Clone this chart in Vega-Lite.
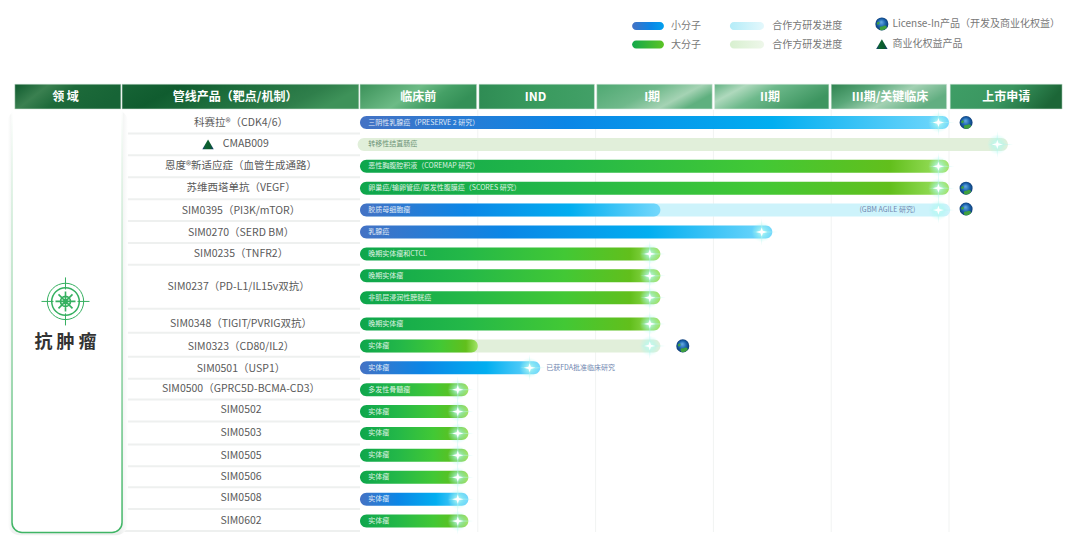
{"$schema":"https://vega.github.io/schema/vega-lite/v6.json","width":1080,"height":538,"autosize":{"type":"fit","contains":"padding"},"padding":0,"background":"white","config":{"view":{"stroke":null},"text":{"font":"Noto Sans CJK SC"}},
"datasets":{
"bars":[
{"row":0,"start":0,"end":5,"kind":"small"},
{"row":1,"start":-0.02,"end":5.5,"kind":"partnerGreen"},
{"row":2,"start":0,"end":5,"kind":"large"},
{"row":3,"start":0,"end":5,"kind":"large"},
{"row":4,"start":0,"end":5.01,"kind":"partnerBlue"},
{"row":4,"start":0,"end":2.55,"kind":"small"},
{"row":5,"start":0,"end":3.5,"kind":"small"},
{"row":6,"start":0,"end":2.55,"kind":"large"},
{"row":7,"start":0,"end":2.55,"kind":"large"},
{"row":8,"start":0,"end":2.55,"kind":"large"},
{"row":9.2,"start":0,"end":2.55,"kind":"large"},
{"row":10.2,"start":0,"end":2.55,"kind":"partnerGreen"},
{"row":10.2,"start":0,"end":1,"kind":"large"},
{"row":11.2,"start":0,"end":1.53,"kind":"small"},
{"row":12.2,"start":0,"end":0.92,"kind":"large"},
{"row":13.2,"start":0,"end":0.92,"kind":"large"},
{"row":14.2,"start":0,"end":0.92,"kind":"large"},
{"row":15.2,"start":0,"end":0.92,"kind":"large"},
{"row":16.2,"start":0,"end":0.92,"kind":"large"},
{"row":17.2,"start":0,"end":0.92,"kind":"small"},
{"row":18.2,"start":0,"end":0.92,"kind":"large"}],
"stars":[
{"row":0,"start":4.91},{"row":1,"start":5.41},{"row":2,"start":4.91},{"row":3,"start":4.91},{"row":4,"start":4.91},{"row":5,"start":3.41},{"row":6,"start":2.46},{"row":7,"start":2.46},{"row":8,"start":2.46},{"row":9.2,"start":2.46},{"row":10.2,"start":2.46},{"row":11.2,"start":1.44},{"row":12.2,"start":0.83},{"row":13.2,"start":0.83},{"row":14.2,"start":0.83},{"row":15.2,"start":0.83},{"row":16.2,"start":0.83},{"row":17.2,"start":0.83},{"row":18.2,"start":0.83}],
"barLabels":[
{"row":0,"start":0.07,"label":"三阴性乳腺癌（PRESERVE 2 研究）"},
{"row":2,"start":0.07,"label":"恶性胸腹腔积液（COREMAP 研究）"},
{"row":3,"start":0.07,"label":"卵巢癌/输卵管癌/原发性腹膜癌（SCORES 研究）"},
{"row":4,"start":0.07,"label":"胶质母细胞瘤"},
{"row":5,"start":0.07,"label":"乳腺癌"},
{"row":6,"start":0.07,"label":"晚期实体瘤和CTCL"},
{"row":7,"start":0.07,"label":"晚期实体瘤"},
{"row":8,"start":0.07,"label":"非肌层浸润性膀胱癌"},
{"row":9.2,"start":0.07,"label":"晚期实体瘤"},
{"row":10.2,"start":0.07,"label":"实体瘤"},
{"row":11.2,"start":0.07,"label":"实体瘤"},
{"row":12.2,"start":0.07,"label":"多发性骨髓瘤"},
{"row":13.2,"start":0.07,"label":"实体瘤"},
{"row":14.2,"start":0.07,"label":"实体瘤"},
{"row":15.2,"start":0.07,"label":"实体瘤"},
{"row":16.2,"start":0.07,"label":"实体瘤"},
{"row":17.2,"start":0.07,"label":"实体瘤"},
{"row":18.2,"start":0.07,"label":"实体瘤"}],
"notes":[
{"row":1,"start":0.07,"label":"转移性结直肠癌","tone":"green"},
{"row":4,"start":4.24,"label":"(GBM AGILE 研究)","tone":"blue"},
{"row":11.2,"start":1.58,"label":"已获FDA批准临床研究","tone":"blue"}],
"products":[
{"row":0,"start":-1.01,"label":"科赛拉®（CDK4/6）"},
{"row":1,"start":-0.97,"label":"CMAB009"},
{"row":2,"start":-1.01,"label":"恩度®新适应症（血管生成通路）"},
{"row":3,"start":-1.01,"label":"苏维西塔单抗（VEGF）"},
{"row":4.03,"start":-1.01,"label":"SIM0395（PI3K/mTOR）"},
{"row":5.03,"start":-1.01,"label":"SIM0270（SERD BM）"},
{"row":6.02,"start":-1.01,"label":"SIM0235（TNFR2）"},
{"row":7.5,"start":-1.03,"label":"SIM0237（PD-L1/IL15v双抗）"},
{"row":9.2,"start":-1.01,"label":"SIM0348（TIGIT/PVRIG双抗）"},
{"row":10.25,"start":-1.01,"label":"SIM0323（CD80/IL2）"},
{"row":11.25,"start":-1.01,"label":"SIM0501（USP1）"},
{"row":12.18,"start":-1.01,"label":"SIM0500（GPRC5D-BCMA-CD3）"},
{"row":13.15,"start":-1.01,"label":"SIM0502"},
{"row":14.2,"start":-1.01,"label":"SIM0503"},
{"row":15.25,"start":-1.01,"label":"SIM0505"},
{"row":16.2,"start":-1.01,"label":"SIM0506"},
{"row":17.15,"start":-1.01,"label":"SIM0508"},
{"row":18.2,"start":-1.01,"label":"SIM0602"}],
"separators":[
{"row":0.5,"start":-2.02,"end":0},{"row":1.5,"start":-2.02,"end":0},{"row":2.5,"start":-2.02,"end":0},{"row":3.5,"start":-2.02,"end":0},{"row":4.5,"start":-2.02,"end":0},{"row":5.5,"start":-2.02,"end":0},{"row":6.5,"start":-2.02,"end":0},{"row":8.5,"start":-2.02,"end":0},{"row":9.6,"start":-2.02,"end":0},{"row":10.7,"start":-2.02,"end":0},{"row":11.7,"start":-2.02,"end":0},{"row":12.65,"start":-2.02,"end":0},{"row":13.65,"start":-2.02,"end":0},{"row":14.7,"start":-2.02,"end":0},{"row":15.7,"start":-2.02,"end":0},{"row":16.65,"start":-2.02,"end":0},{"row":17.65,"start":-2.02,"end":0},{"row":18.65,"start":-2.02,"end":0}],
"grid":[{"start":1,"row":-0.57,"rowEnd":18.7},{"start":2,"row":-0.57,"rowEnd":18.7},{"start":3,"row":-0.57,"rowEnd":18.7},{"start":4,"row":-0.57,"rowEnd":18.7},{"start":5,"row":-0.57,"rowEnd":18.7}],
"headers":[
{"cell":"a","start":-2.93,"end":-2.03,"row":-1.75,"rowEnd":-0.62},
{"cell":"b","start":-2.02,"end":-0.01,"row":-1.75,"rowEnd":-0.62},
{"cell":"c","start":0,"end":0.99,"row":-1.75,"rowEnd":-0.62},
{"cell":"d","start":1.01,"end":1.99,"row":-1.75,"rowEnd":-0.62},
{"cell":"e","start":2.01,"end":2.99,"row":-1.75,"rowEnd":-0.62},
{"cell":"f","start":3.01,"end":3.98,"row":-1.75,"rowEnd":-0.62},
{"cell":"g","start":4,"end":4.98,"row":-1.75,"rowEnd":-0.62},
{"cell":"h","start":5.01,"end":5.96,"row":-1.75,"rowEnd":-0.62}],
"headerLabels":[
{"start":-2.5,"row":-1.17,"label":"领 域"},
{"start":-1.06,"row":-1.17,"label":"管线产品（靶点/机制）"},
{"start":0.495,"row":-1.17,"label":"临床前"},
{"start":1.49,"row":-1.17,"label":"IND"},
{"start":2.48,"row":-1.17,"label":"I期"},
{"start":3.48,"row":-1.17,"label":"II期"},
{"start":4.5,"row":-1.17,"label":"III期/关键临床"},
{"start":5.485,"row":-1.17,"label":"上市申请"}],
"panel":[{"start":-2.954,"end":-2.02,"row":-0.57,"rowEnd":18.72}],
"shadow":[{"start":-2.99,"end":-1.97,"row":-0.57,"rowEnd":18.85}],
"domainIcon":[{"start":-2.5,"row":8.17}],
"domainLabel":[{"start":-2.5,"row":10.07,"label":"抗 肿 瘤"}],
"globes":[{"start":5.145,"row":0},{"start":5.145,"row":3},{"start":5.145,"row":3.95},{"start":2.74,"row":10.2},{"start":4.43,"row":-4.5}],
"triangles":[{"start":-1.29,"row":1},{"start":4.43,"row":-3.58}],
"legendSmall":[{"start":2.31,"end":2.58,"row":-4.41}],
"legendLarge":[{"start":2.31,"end":2.58,"row":-3.56}],
"legendPartnerBlue":[{"start":3.14,"end":3.43,"row":-4.41}],
"legendPartnerGreen":[{"start":3.14,"end":3.43,"row":-3.56}],
"legendText":[
{"start":2.64,"row":-4.41,"label":"小分子"},
{"start":2.64,"row":-3.56,"label":"大分子"},
{"start":3.5,"row":-4.41,"label":"合作方研发进度"},
{"start":3.5,"row":-3.56,"label":"合作方研发进度"},
{"start":4.52,"row":-4.5,"label":"License-In产品（开发及商业化权益）"},
{"start":4.52,"row":-3.58,"label":"商业化权益产品"}]
},
"encoding":{
"x":{"field":"start","type":"quantitative","axis":null,"scale":{"domain":[-3.056,6.112],"nice":false,"zero":false,"padding":0}},
"y":{"field":"row","type":"quantitative","axis":null,"scale":{"domain":[-5.594,18.973],"nice":false,"zero":false,"reverse":true,"padding":0}}},
"layer":[
{"data":{"name":"grid"},"mark":{"type":"rule","color":"#f1f3f2","strokeWidth":1},"encoding":{"y2":{"field":"rowEnd"}}},
{"data":{"name":"separators"},"mark":{"type":"rule","color":"#eef0ef","strokeWidth":2},"encoding":{"x2":{"field":"end"}}},
{"data":{"name":"shadow"},"mark":{"type":"bar","orient":"horizontal","cornerRadius":12,"fill":{"gradient":"linear","x1":0,"y1":0,"x2":1,"y2":0,"stops":[{"offset":0,"color":"#ffffff"},{"offset":0.04,"color":"#f0f2f1"},{"offset":0.93,"color":"#eceeed"},{"offset":1,"color":"#ffffff"}]}},"encoding":{"x2":{"field":"end"},"y2":{"field":"rowEnd"}}},
{"data":{"name":"panel"},"mark":{"type":"bar","orient":"horizontal","cornerRadiusBottomLeft":10,"cornerRadiusBottomRight":10,"fill":"#ffffff","strokeWidth":1.5,"stroke":{"gradient":"linear","x1":0,"y1":0,"x2":0,"y2":1,"stops":[{"offset":0,"color":"#ffffff"},{"offset":0.12,"color":"#e6f5ea"},{"offset":0.45,"color":"#a8dcb8"},{"offset":1,"color":"#3fb565"}]}},"encoding":{"x2":{"field":"end"},"y2":{"field":"rowEnd"}}},
{"data":{"name":"headers"},"transform":[{"filter":"datum.cell==='a'"}],"mark":{"type":"bar","orient":"horizontal","stroke":"#cfe3d6","strokeWidth":0.5,"fill":{"gradient":"linear","x1":0,"y1":0,"x2":1,"y2":0.3,"stops":[{"offset":0,"color":"#0f5a2e"},{"offset":0.3,"color":"#3a8050"},{"offset":0.55,"color":"#1d6a3a"},{"offset":1,"color":"#176436"}]}},"encoding":{"x2":{"field":"end"},"y2":{"field":"rowEnd"}}},
{"data":{"name":"headers"},"transform":[{"filter":"datum.cell==='b'"}],"mark":{"type":"bar","orient":"horizontal","stroke":"#cfe3d6","strokeWidth":0.5,"fill":{"gradient":"linear","x1":0,"y1":0,"x2":1,"y2":0.2,"stops":[{"offset":0,"color":"#176436"},{"offset":0.25,"color":"#105c2f"},{"offset":0.5,"color":"#1d6d3c"},{"offset":0.85,"color":"#2f7f4b"},{"offset":1,"color":"#3e9259"}]}},"encoding":{"x2":{"field":"end"},"y2":{"field":"rowEnd"}}},
{"data":{"name":"headers"},"transform":[{"filter":"datum.cell==='c'"}],"mark":{"type":"bar","orient":"horizontal","stroke":"#cfe3d6","strokeWidth":0.5,"fill":{"gradient":"linear","x1":0,"y1":0,"x2":1,"y2":0.3,"stops":[{"offset":0,"color":"#3b9159"},{"offset":0.5,"color":"#6dbb86"},{"offset":0.75,"color":"#45a066"},{"offset":1,"color":"#349057"}]}},"encoding":{"x2":{"field":"end"},"y2":{"field":"rowEnd"}}},
{"data":{"name":"headers"},"transform":[{"filter":"datum.cell==='d'"}],"mark":{"type":"bar","orient":"horizontal","stroke":"#cfe3d6","strokeWidth":0.5,"fill":{"gradient":"linear","x1":0,"y1":0,"x2":1,"y2":0,"stops":[{"offset":0,"color":"#2f8c54"},{"offset":0.5,"color":"#399a5e"},{"offset":1,"color":"#42a067"}]}},"encoding":{"x2":{"field":"end"},"y2":{"field":"rowEnd"}}},
{"data":{"name":"headers"},"transform":[{"filter":"datum.cell==='e'"}],"mark":{"type":"bar","orient":"horizontal","stroke":"#d8e9de","strokeWidth":0.5,"fill":{"gradient":"linear","x1":0,"y1":0,"x2":1,"y2":0.4,"stops":[{"offset":0,"color":"#4fa872"},{"offset":0.5,"color":"#6fb98b"},{"offset":0.8,"color":"#a5d3b4"},{"offset":1,"color":"#5fb07f"}]}},"encoding":{"x2":{"field":"end"},"y2":{"field":"rowEnd"}}},
{"data":{"name":"headers"},"transform":[{"filter":"datum.cell==='f'"}],"mark":{"type":"bar","orient":"horizontal","stroke":"#d8e9de","strokeWidth":0.5,"fill":{"gradient":"linear","x1":0,"y1":0,"x2":1,"y2":0.4,"stops":[{"offset":0,"color":"#63b283"},{"offset":0.25,"color":"#afd9bd"},{"offset":0.5,"color":"#6db98b"},{"offset":1,"color":"#3d9560"}]}},"encoding":{"x2":{"field":"end"},"y2":{"field":"rowEnd"}}},
{"data":{"name":"headers"},"transform":[{"filter":"datum.cell==='g'"}],"mark":{"type":"bar","orient":"horizontal","stroke":"#d8e9de","strokeWidth":0.5,"fill":{"gradient":"linear","x1":0,"y1":0,"x2":1,"y2":0.4,"stops":[{"offset":0,"color":"#2f8350"},{"offset":0.35,"color":"#5aa87a"},{"offset":0.65,"color":"#a3d1b3"},{"offset":1,"color":"#62ae81"}]}},"encoding":{"x2":{"field":"end"},"y2":{"field":"rowEnd"}}},
{"data":{"name":"headers"},"transform":[{"filter":"datum.cell==='h'"}],"mark":{"type":"bar","orient":"horizontal","stroke":"#cfe3d6","strokeWidth":0.5,"fill":{"gradient":"linear","x1":0,"y1":0,"x2":1,"y2":0.2,"stops":[{"offset":0,"color":"#3f9e66"},{"offset":0.55,"color":"#3a9660"},{"offset":1,"color":"#1c6637"}]}},"encoding":{"x2":{"field":"end"},"y2":{"field":"rowEnd"}}},
{"data":{"name":"headerLabels"},"mark":{"type":"text","align":"center","baseline":"middle","fontSize":12,"fontWeight":"bold","color":"#ffffff"},"encoding":{"text":{"field":"label"}}},
{"data":{"name":"bars"},"transform":[{"filter":"datum.kind==='partnerGreen'"}],"mark":{"type":"bar","orient":"horizontal","size":13,"cornerRadius":6.5,"fill":"#e1efda"},"encoding":{"x2":{"field":"end"}}},
{"data":{"name":"bars"},"transform":[{"filter":"datum.kind==='partnerBlue'"}],"mark":{"type":"bar","orient":"horizontal","size":13,"cornerRadius":6.5,"fill":"#cdf3fb"},"encoding":{"x2":{"field":"end"}}},
{"data":{"name":"bars"},"transform":[{"filter":"datum.kind==='small'"}],"mark":{"type":"bar","orient":"horizontal","size":13,"cornerRadius":6.5,"fill":{"gradient":"linear","x1":0,"y1":0,"x2":1,"y2":0,"stops":[{"offset":0,"color":"#4472c4"},{"offset":0.35,"color":"#0b86e6"},{"offset":0.7,"color":"#02aef0"},{"offset":1,"color":"#74d8fc"}]}},"encoding":{"x2":{"field":"end"}}},
{"data":{"name":"bars"},"transform":[{"filter":"datum.kind==='large'"}],"mark":{"type":"bar","orient":"horizontal","size":13,"cornerRadius":6.5,"fill":{"gradient":"linear","x1":0,"y1":0,"x2":1,"y2":0,"stops":[{"offset":0,"color":"#0ea64c"},{"offset":0.35,"color":"#24b848"},{"offset":0.68,"color":"#42c835"},{"offset":0.9,"color":"#62bf1c"},{"offset":1,"color":"#a2e468"}]}},"encoding":{"x2":{"field":"end"}}},
{"data":{"name":"stars"},"mark":{"type":"point","filled":true,"opacity":1,"size":420,"shape":"circle","fill":{"gradient":"radial","x1":0.5,"y1":0.5,"r1":0,"x2":0.5,"y2":0.5,"r2":0.5,"stops":[{"offset":0,"color":"rgba(215,255,250,0.95)"},{"offset":0.45,"color":"rgba(170,250,240,0.5)"},{"offset":1,"color":"rgba(170,250,240,0)"}]}}},
{"data":{"name":"stars"},"mark":{"type":"point","filled":true,"opacity":0.45,"color":"#b6f7ef","size":1000,"shape":"M0,-0.85 L0.07,-0.07 L1,0 L0.07,0.07 L0,0.85 L-0.07,0.07 L-0.6,0 L-0.07,-0.07 Z"}},
{"data":{"name":"stars"},"mark":{"type":"point","filled":true,"opacity":1,"color":"#ffffff","size":130,"shape":"M0,-0.8 L0.2,-0.2 L1,0 L0.2,0.2 L0,0.8 L-0.2,0.2 L-1,0 L-0.2,-0.2 Z"}},
{"data":{"name":"barLabels"},"mark":{"type":"text","align":"left","baseline":"middle","fontSize":7,"color":"#ffffff","opacity":0.85},"encoding":{"text":{"field":"label"}}},
{"data":{"name":"notes"},"transform":[{"filter":"datum.tone==='green'"}],"mark":{"type":"text","align":"left","baseline":"middle","fontSize":7,"color":"#6c9478"},"encoding":{"text":{"field":"label"}}},
{"data":{"name":"notes"},"transform":[{"filter":"datum.tone==='blue'"}],"mark":{"type":"text","align":"left","baseline":"middle","fontSize":7,"color":"#6f86b0"},"encoding":{"text":{"field":"label"}}},
{"data":{"name":"products"},"mark":{"type":"text","align":"center","baseline":"middle","fontSize":10.5,"color":"#5a5a5a"},"encoding":{"text":{"field":"label"}}},
{"data":{"name":"domainIcon"},"mark":{"type":"point","filled":false,"opacity":1,"stroke":"#35b060","strokeWidth":1,"size":1320,"shape":"circle"}},
{"data":{"name":"domainIcon"},"mark":{"type":"point","filled":false,"opacity":1,"stroke":"#35b060","strokeWidth":1.5,"size":760,"shape":"circle"}},
{"data":{"name":"domainIcon"},"mark":{"type":"point","filled":false,"opacity":1,"stroke":"#35b060","strokeWidth":1,"size":2304,"shape":"M-1,0 L-0.5,0 M0.5,0 L1,0 M0,-1 L0,-0.5 M0,0.5 L0,1"}},
{"data":{"name":"domainIcon"},"mark":{"type":"point","filled":false,"opacity":1,"stroke":"#35b060","strokeWidth":1.6,"size":400,"shape":"M-1,0 L1,0 M0,-1 L0,1 M-0.7,-0.7 L0.7,0.7 M-0.7,0.7 L0.7,-0.7 M0.5,0 A0.5,0.5 0 1 1 -0.5,0 A0.5,0.5 0 1 1 0.5,0"}},
{"data":{"name":"domainLabel"},"mark":{"type":"text","align":"center","baseline":"middle","fontSize":18,"fontWeight":"bold","color":"#333333"},"encoding":{"text":{"field":"label"}}},
{"data":{"name":"globes"},"mark":{"type":"point","filled":true,"opacity":1,"size":170,"shape":"circle","fill":{"gradient":"radial","x1":0.45,"y1":0.35,"r1":0,"x2":0.5,"y2":0.5,"r2":0.55,"stops":[{"offset":0,"color":"#6aaee6"},{"offset":0.55,"color":"#1a62ad"},{"offset":1,"color":"#0c3468"}]}}},
{"data":{"name":"globes"},"mark":{"type":"point","filled":true,"size":170,"color":"#3fa03f","shape":"M-0.2,0.95 C-0.5,0.6 -0.3,0.3 0.1,0.4 C0.5,0.1 0.8,0.3 0.75,0.6 C0.5,0.9 0.2,1 -0.2,0.95 Z M-0.75,-0.2 C-0.5,-0.5 -0.2,-0.3 -0.4,0 C-0.6,0.2 -0.8,0.1 -0.75,-0.2 Z","opacity":1}},
{"data":{"name":"triangles"},"mark":{"type":"point","filled":true,"opacity":1,"size":130,"shape":"triangle-up","strokeWidth":0,"fill":{"gradient":"linear","x1":0,"y1":0,"x2":1,"y2":0,"stops":[{"offset":0,"color":"#153a7a"},{"offset":0.3,"color":"#0c6430"},{"offset":0.7,"color":"#0c5a2e"},{"offset":1,"color":"#153a7a"}]}}},
{"data":{"name":"legendSmall"},"mark":{"type":"bar","orient":"horizontal","size":8,"cornerRadius":4,"fill":{"gradient":"linear","x1":0,"y1":0,"x2":1,"y2":0,"stops":[{"offset":0,"color":"#4472c4"},{"offset":0.6,"color":"#0b86e6"},{"offset":1,"color":"#02a0ee"}]}},"encoding":{"x2":{"field":"end"}}},
{"data":{"name":"legendLarge"},"mark":{"type":"bar","orient":"horizontal","size":8,"cornerRadius":4,"fill":{"gradient":"linear","x1":0,"y1":0,"x2":1,"y2":0,"stops":[{"offset":0,"color":"#12a84a"},{"offset":1,"color":"#5cc425"}]}},"encoding":{"x2":{"field":"end"}}},
{"data":{"name":"legendPartnerBlue"},"mark":{"type":"bar","orient":"horizontal","size":8,"cornerRadius":4,"fill":{"gradient":"linear","x1":0,"y1":0,"x2":1,"y2":0,"stops":[{"offset":0,"color":"#b4ecf8"},{"offset":1,"color":"#e4f8fc"}]}},"encoding":{"x2":{"field":"end"}}},
{"data":{"name":"legendPartnerGreen"},"mark":{"type":"bar","orient":"horizontal","size":8,"cornerRadius":4,"fill":{"gradient":"linear","x1":0,"y1":0,"x2":1,"y2":0,"stops":[{"offset":0,"color":"#d8f0d0"},{"offset":1,"color":"#eef7ea"}]}},"encoding":{"x2":{"field":"end"}}},
{"data":{"name":"legendText"},"mark":{"type":"text","align":"left","baseline":"middle","fontSize":10,"color":"#777777"},"encoding":{"text":{"field":"label"}}}
]}
